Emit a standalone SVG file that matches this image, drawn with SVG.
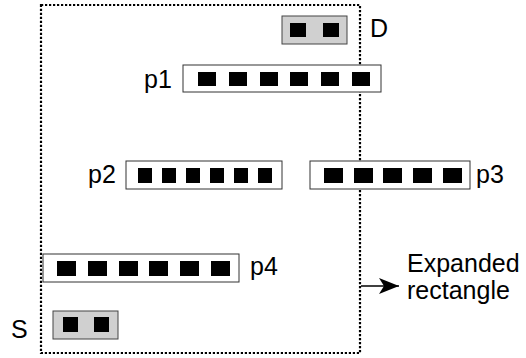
<svg xmlns="http://www.w3.org/2000/svg" width="526" height="358" viewBox="0 0 526 358">
<style>
.lbl{font-family:"Liberation Sans",Arial,sans-serif;font-size:25px;fill:#000}
.bar{fill:#fff;stroke:#333;stroke-width:1}
.gray{fill:#d0d0d0;stroke:#444;stroke-width:1}
.sq{fill:#000}
.dot{fill:none;stroke:#000;stroke-width:2.2;stroke-dasharray:2.2 1.8}
</style>
<defs>
<marker id="ah" viewBox="0 0 20 16" refX="20" refY="8" markerWidth="20" markerHeight="16" markerUnits="userSpaceOnUse" orient="auto">
<path d="M0,0 L20,8 L0,16 L5,8 Z" fill="#000"/>
</marker>
</defs>
<g id="region">
<rect class="dot" x="41" y="5" width="319" height="348"/>
</g>
<g id="connectors">
<line x1="361" y1="286" x2="399" y2="286" stroke="#000" stroke-width="1.3" marker-end="url(#ah)"/>
</g>
<g id="D">
<rect class="gray" x="282" y="16" width="65" height="28"/>
<rect class="sq" x="290" y="23" width="16" height="14"/>
<rect class="sq" x="323" y="23" width="16" height="14"/>
<text class="lbl" x="370" y="37">D</text>
</g>
<g id="p1">
<rect class="bar" x="183" y="65" width="198" height="27"/>
<rect class="sq" x="198" y="72" width="18" height="14"/>
<rect class="sq" x="229" y="72" width="18" height="14"/>
<rect class="sq" x="260" y="72" width="18" height="14"/>
<rect class="sq" x="290" y="72" width="18" height="14"/>
<rect class="sq" x="321" y="72" width="18" height="14"/>
<rect class="sq" x="352" y="72" width="18" height="14"/>
<text class="lbl" x="144" y="88">p1</text>
</g>
<g id="p2">
<rect class="bar" x="126" y="161" width="156" height="28"/>
<rect class="sq" x="138" y="168" width="14" height="15"/>
<rect class="sq" x="162" y="168" width="14" height="15"/>
<rect class="sq" x="186" y="168" width="14" height="15"/>
<rect class="sq" x="210" y="168" width="14" height="15"/>
<rect class="sq" x="234" y="168" width="14" height="15"/>
<rect class="sq" x="258" y="168" width="14" height="15"/>
<text class="lbl" x="88" y="183">p2</text>
</g>
<g id="p3">
<rect class="bar" x="310" y="161" width="160" height="28"/>
<rect class="sq" x="324" y="168" width="19" height="15"/>
<rect class="sq" x="354" y="168" width="19" height="15"/>
<rect class="sq" x="383" y="168" width="19" height="15"/>
<rect class="sq" x="413" y="168" width="19" height="15"/>
<rect class="sq" x="443" y="168" width="19" height="15"/>
<text class="lbl" x="476" y="183">p3</text>
</g>
<g id="p4">
<rect class="bar" x="43" y="254" width="196" height="28"/>
<rect class="sq" x="57" y="261" width="19" height="15"/>
<rect class="sq" x="88" y="261" width="19" height="15"/>
<rect class="sq" x="119" y="261" width="19" height="15"/>
<rect class="sq" x="149" y="261" width="19" height="15"/>
<rect class="sq" x="180" y="261" width="19" height="15"/>
<rect class="sq" x="211" y="261" width="19" height="15"/>
<text class="lbl" x="250" y="275">p4</text>
</g>
<g id="S">
<rect class="gray" x="53" y="311" width="65" height="28"/>
<rect class="sq" x="63" y="317" width="15" height="15"/>
<rect class="sq" x="94" y="317" width="15" height="15"/>
<text class="lbl" x="11" y="338">S</text>
</g>
<g id="label">
<text class="lbl" x="407" y="272">Expanded</text>
<text class="lbl" x="407" y="299">rectangle</text>
</g>
</svg>
